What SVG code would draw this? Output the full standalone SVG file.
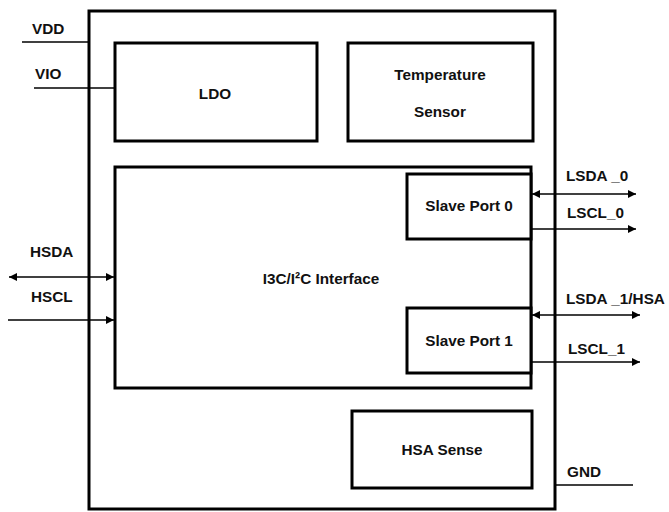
<svg xmlns="http://www.w3.org/2000/svg" width="669" height="512" viewBox="0 0 669 512">
<style>
.box{fill:#fff;stroke:#000;stroke-width:3}
.outer{fill:#fff;stroke:#000;stroke-width:3}
.t{font-family:"Liberation Sans",Arial,sans-serif;font-weight:bold;font-size:15.3px;fill:#111}
.c{text-anchor:middle}
.w{stroke:#000;stroke-width:1.6;fill:none}
</style>
<defs>
<marker id="ah" viewBox="0 0 10 10" refX="10" refY="5" markerWidth="10" markerHeight="8" markerUnits="userSpaceOnUse" orient="auto-start-reverse">
<path d="M0,0 L10,5 L0,10 z" fill="#000"/>
</marker>
</defs>
<g id="chip"><rect class="outer" x="89" y="11" width="466" height="498"/></g>
<g id="ldo"><rect class="box" x="115" y="43" width="202" height="98"/><text class="t c" x="215" y="99">LDO</text></g>
<g id="temp"><rect class="box" x="348" y="43" width="185" height="98"/><text class="t c" x="440" y="80">Temperature</text><text class="t c" x="440" y="117">Sensor</text></g>
<g id="i3c"><rect class="box" x="115" y="167" width="416" height="221"/><text class="t c" x="321" y="284">I3C/I²C Interface</text></g>
<g id="sp0"><rect class="box" x="407" y="174" width="124" height="65"/><text class="t c" x="469" y="211">Slave Port 0</text></g>
<g id="sp1"><rect class="box" x="407" y="308" width="124" height="65"/><text class="t c" x="469" y="346">Slave Port 1</text></g>
<g id="hsa"><rect class="box" x="352" y="411" width="180" height="77"/><text class="t c" x="442" y="455">HSA Sense</text></g>
<g id="connectors">
<line class="w" x1="22" y1="42" x2="89" y2="42"/>
<line class="w" x1="34" y1="88" x2="115" y2="88"/>
<line class="w" x1="9" y1="277" x2="114" y2="277" marker-start="url(#ah)" marker-end="url(#ah)"/>
<line class="w" x1="8" y1="320" x2="114" y2="320" marker-end="url(#ah)"/>
<line class="w" x1="532" y1="194" x2="636" y2="194" marker-start="url(#ah)" marker-end="url(#ah)"/>
<line class="w" x1="532" y1="229" x2="636" y2="229" marker-end="url(#ah)"/>
<line class="w" x1="532" y1="315" x2="640" y2="315" marker-start="url(#ah)" marker-end="url(#ah)"/>
<line class="w" x1="532" y1="362" x2="640" y2="362" marker-end="url(#ah)"/>
<line class="w" x1="555" y1="485" x2="633" y2="485"/>
</g>
<g id="labels">
<text class="t" x="32" y="34">VDD</text>
<text class="t" x="35" y="79">VIO</text>
<text class="t" x="30" y="257">HSDA</text>
<text class="t" x="31" y="302">HSCL</text>
<text class="t" x="566" y="181">LSDA _0</text>
<text class="t" x="567" y="218">LSCL_0</text>
<text class="t" x="566" y="304">LSDA _1/HSA</text>
<text class="t" x="568" y="354">LSCL_1</text>
<text class="t" x="567" y="477">GND</text>
</g>
</svg>
